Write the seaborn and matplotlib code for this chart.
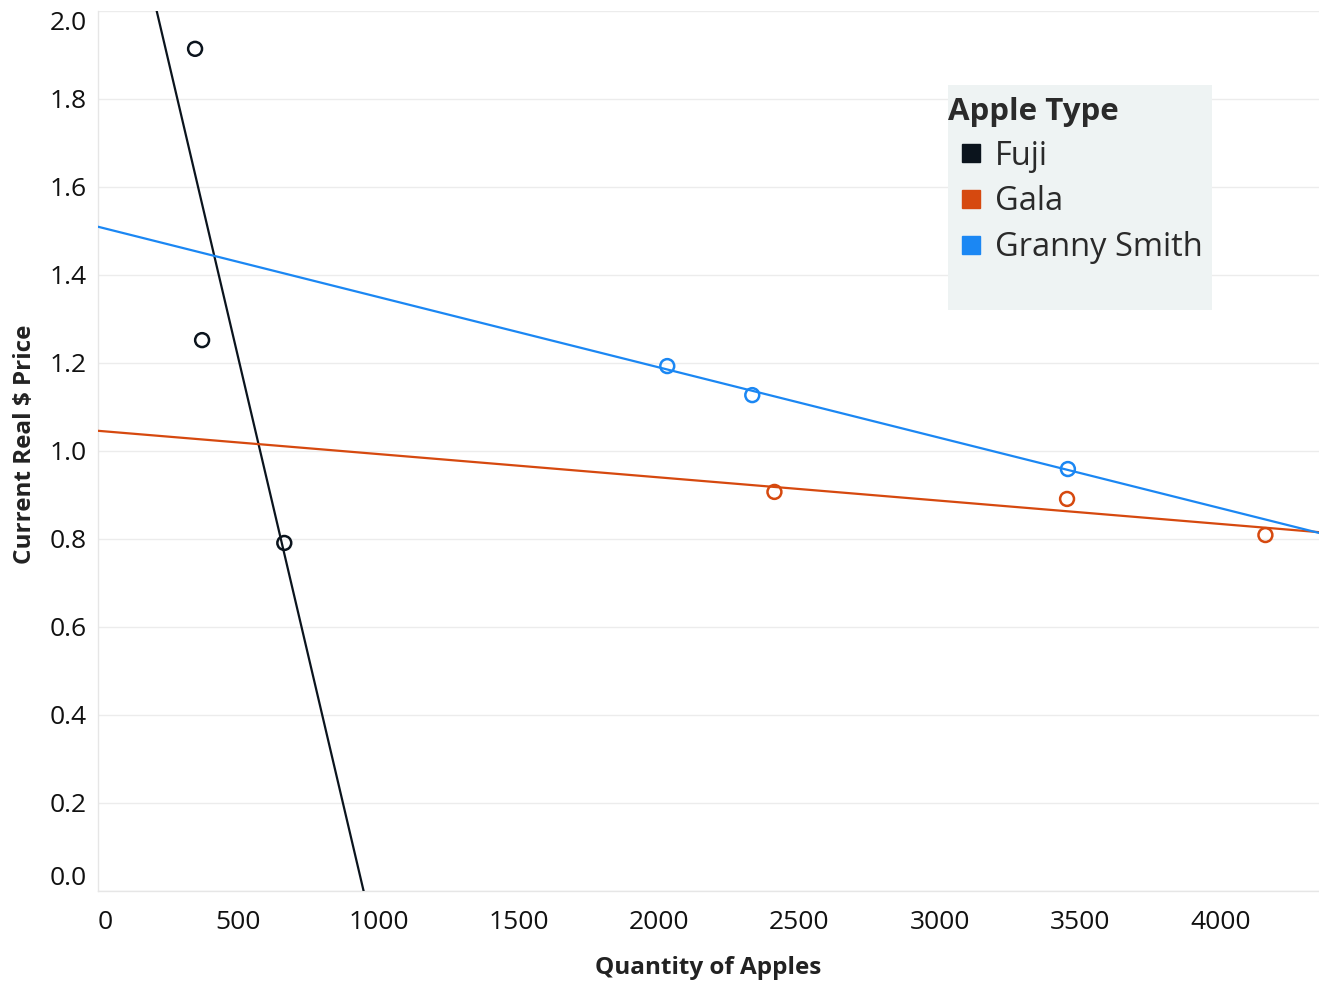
import matplotlib
matplotlib.use("Agg")
import matplotlib.pyplot as plt
from matplotlib.lines import Line2D
from matplotlib.patches import Rectangle
import seaborn as sns
import pandas as pd

# ---- data ----
fuji_qty = [346, 371, 664]
fuji_price = [1.914, 1.252, 0.791]
gala_qty = [2411, 3454, 4161]
gala_price = [0.907, 0.891, 0.809]
granny_qty = [2029, 2332, 3457]
granny_price = [1.193, 1.127, 0.959]

apple_types = ["Fuji", "Gala", "Granny Smith"]
colors = {"Fuji": "#0b141d", "Gala": "#d6490f", "Granny Smith": "#1b87f3"}
x_ticks = [0, 500, 1000, 1500, 2000, 2500, 3000, 3500, 4000]
y_ticks = [0.0, 0.2, 0.4, 0.6, 0.8, 1.0, 1.2, 1.4, 1.6, 1.8, 2.0]

df = pd.DataFrame({
    "qty": fuji_qty + gala_qty + granny_qty,
    "price": fuji_price + gala_price + granny_price,
    "type": ["Fuji"] * 3 + ["Gala"] * 3 + ["Granny Smith"] * 3,
})

sns.set_style("white")
plt.rcParams["font.family"] = ["Open Sans", "DejaVu Sans"]

W, H = 1319, 983
fig = plt.figure(figsize=(W / 100, H / 100), dpi=100)
ax = fig.add_axes([98 / W, 1 - 891 / H, 1 - 98 / W, (891 - 11) / H])
ax.set_xlim(0, 4352)
ax.set_ylim(0, 2.0)

for t in apple_types:
    sub = df[df["type"] == t]
    sns.regplot(
        data=sub, x="qty", y="price", ax=ax, ci=None, truncate=False,
        color=colors[t],
        scatter_kws={"facecolors": "none", "edgecolors": colors[t], "s": 100,
                     "linewidths": 1.8, "alpha": 1, "zorder": 4},
        line_kws={"lw": 1.6, "zorder": 3},
    )

ax.set_xlim(0, 4352)
ax.set_ylim(0, 2.0)
ax.set_xticks(x_ticks)
ax.set_yticks(y_ticks)
ax.set_xticklabels([str(v) for v in x_ticks])
ax.set_yticklabels([f"{v:.1f}" for v in y_ticks])
ax.tick_params(axis="both", length=0, labelsize=19, labelcolor="#111111")
ax.tick_params(axis="x", pad=14)
ax.tick_params(axis="y", pad=8)
ax.get_xticklabels()[0].set_horizontalalignment("left")
ax.get_yticklabels()[0].set_verticalalignment("bottom")
ax.get_yticklabels()[-1].set_verticalalignment("top")

ax.grid(axis="y", color="#ececec", lw=1)
ax.grid(axis="x", visible=False)
for s in ["top", "right"]:
    ax.spines[s].set_visible(False)
for s in ["left", "bottom"]:
    ax.spines[s].set_color("#e6e6e6")
    ax.spines[s].set_linewidth(1)

ax.set_xlabel("Quantity of Apples", fontsize=17.5, fontweight="bold",
              color="#222222", labelpad=15)
ax.set_ylabel("Current Real \\$ Price", fontsize=17.5, fontweight="bold",
              color="#222222", labelpad=9)
ax.yaxis.label.set_y(0.5 + 7 / 880)

# legend background
fig.patches.append(Rectangle((948 / W, 1 - 310 / H), (1212 - 948) / W, (310 - 85) / H,
                             transform=fig.transFigure, facecolor="#eef3f3",
                             edgecolor="none", zorder=5))
handles = [Line2D([], [], marker="s", linestyle="none", markersize=13,
                  markerfacecolor=colors[t], markeredgecolor=colors[t])
           for t in apple_types]
leg = fig.legend(handles, apple_types, title="Apple Type", loc="upper left",
                 bbox_to_anchor=(948 / W, 1 - 97 / H), frameon=False,
                 fontsize=23.5, title_fontsize=22.5, alignment="left",
                 handletextpad=0.05, labelspacing=0.39, borderpad=0,
                 borderaxespad=0, handlelength=1.4)
leg.set_zorder(6)
leg.get_title().set_fontweight("bold")
leg.get_title().set_color("#2a2a2a")
for txt in leg.get_texts():
    txt.set_color("#2a2a2a")

fig.savefig("out.png", dpi=100)
